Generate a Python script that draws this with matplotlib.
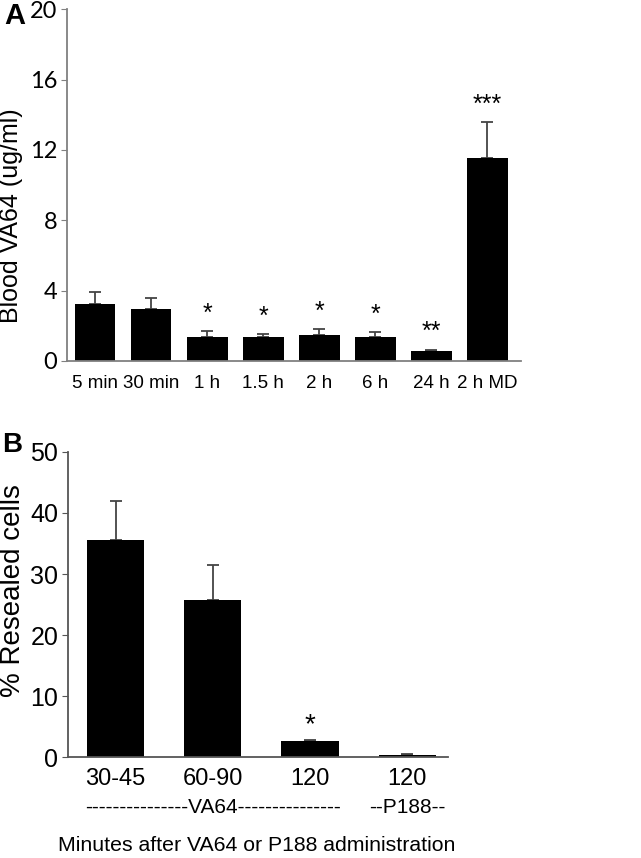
import numpy as np
import matplotlib
matplotlib.use('Agg')
import matplotlib.pyplot as plt

# Panel A: blood VA64 levels
a_labels = ['5 min', '30 min', '1 h', '1.5 h', '2 h', '6 h', '24 h', '2 h MD']
a_means = [3.25, 2.95, 1.35, 1.35, 1.5, 1.35, 0.55, 11.55]
a_err = [0.65, 0.65, 0.37, 0.17, 0.3, 0.28, 0.1, 2.05]
a_stars = ['', '', '*', '*', '*', '*', '**', '***']

# Panel B: resealed cells
b_labels = ['30-45', '60-90', '120', '120']
b_means = [35.5, 25.8, 2.6, 0.3]
b_err = [6.4, 5.7, 0.25, 0.2]
b_stars = ['', '', '*', '']

plt.rcParams['font.family'] = ['Liberation Sans', 'DejaVu Sans']

fig = plt.figure(figsize=(6.41, 8.58), dpi=100)

# ---- panel A ----
axA = fig.add_axes([0.1045, 0.5793, 0.708, 0.410])
xa = np.arange(len(a_labels))
axA.bar(xa, a_means, width=0.73, color='black', zorder=2)
axA.errorbar(xa, a_means, yerr=[np.zeros(len(a_err)), a_err], fmt='none',
             ecolor='#444444', elinewidth=1.3, capsize=4, capthick=1.3, zorder=1)
for x, m, e, s in zip(xa, a_means, a_err, a_stars):
    if s:
        axA.text(x, m + e + 0.3, s, ha='center', va='bottom', fontsize=18)
axA.set_xlim(-0.5, 7.6)
axA.set_ylim(0, 20)
axA.set_yticks([0, 4, 8, 12, 16, 20])
axA.set_xticks(xa)
axA.set_xticklabels(a_labels, fontsize=13.5)
axA.tick_params(axis='x', length=0, pad=10)
axA.tick_params(axis='y', length=4, color='#808080', pad=3)
for lab in axA.get_yticklabels():
    lab.set_family(['Lato', 'DejaVu Sans'])
    lab.set_fontsize(17)
for sp in ['top', 'right']:
    axA.spines[sp].set_visible(False)
for sp in ['left', 'bottom']:
    axA.spines[sp].set_color('#808080')
    axA.spines[sp].set_linewidth(1.3)
fig.text(0.017, 0.749, 'Blood VA64 (ug/ml)', rotation=90, fontsize=18,
         ha='center', va='center')
fig.text(0.006, 0.981, 'A', fontsize=21, fontweight='bold', va='center')

# ---- panel B ----
axB = fig.add_axes([0.106, 0.1177, 0.593, 0.3555])
xb = np.arange(len(b_labels))
axB.bar(xb, b_means, width=0.59, color='black', zorder=2)
axB.errorbar(xb, b_means, yerr=[np.zeros(len(b_err)), b_err], fmt='none',
             ecolor='#444444', elinewidth=1.3, capsize=4, capthick=1.3, zorder=1)
for x, m, e, s in zip(xb, b_means, b_err, b_stars):
    if s:
        axB.text(x, m + e + 0.3, s, ha='center', va='bottom', fontsize=20)
axB.set_xlim(-0.49, 3.42)
axB.set_ylim(0, 50)
axB.set_yticks([0, 10, 20, 30, 40, 50])
axB.set_xticks(xb)
axB.set_xticklabels(b_labels, fontsize=17)
axB.tick_params(axis='x', length=0, pad=8)
axB.tick_params(axis='y', length=4, color='#555555', labelsize=18, pad=3)
for sp in ['top', 'right']:
    axB.spines[sp].set_visible(False)
for sp in ['left', 'bottom']:
    axB.spines[sp].set_color('#555555')
    axB.spines[sp].set_linewidth(1.3)
fig.text(0.021, 0.312, '% Resealed cells', rotation=90, fontsize=20,
         ha='center', va='center')
trans = axB.get_xaxis_transform()
axB.text(1, -0.165, '---------------VA64---------------', transform=trans,
         ha='center', va='center', fontsize=15)
axB.text(3, -0.165, '--P188--', transform=trans,
         ha='center', va='center', fontsize=15)
axB.text(1.45, -0.29, 'Minutes after VA64 or P188 administration', transform=trans,
         ha='center', va='center', fontsize=15.3)
fig.text(0.003, 0.481, 'B', fontsize=20, fontweight='bold', va='center')

fig.savefig('out.png', dpi=100)
